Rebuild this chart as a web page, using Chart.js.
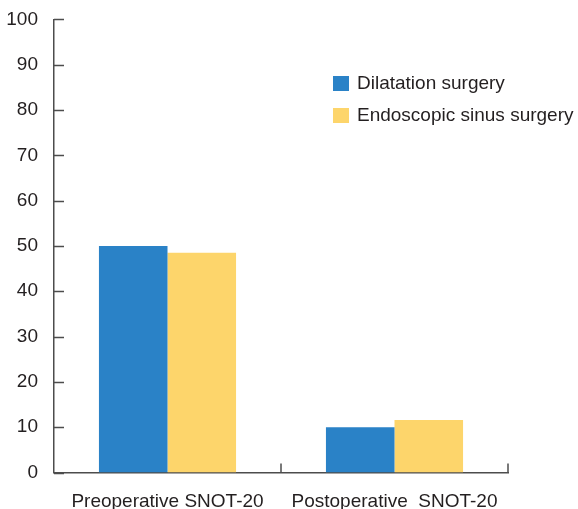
<!DOCTYPE html>
<html>
<head>
<meta charset="utf-8">
<script src="https://cdn.jsdelivr.net/npm/chart.js@4.4.1/dist/chart.umd.min.js"></script>
<style>
  html, body { margin: 0; padding: 0; background: #fff; }
  #wrap { position: relative; width: 578px; height: 509px; }
</style>
</head>
<body>
<div id="wrap"><canvas id="chart"></canvas></div>
<script>
// data
const categories = ['Preoperative SNOT-20', 'Postoperative  SNOT-20'];
const seriesNames = ['Dilatation surgery', 'Endoscopic sinus surgery'];
const dilatation = [50, 10];
const endoscopic = [48.5, 11.6];
const yTicks = [0, 10, 20, 30, 40, 50, 60, 70, 80, 90, 100];

const colors = ['#2A82C7', '#FDD56B'];
const axisColor = '#4d4d4d';
const textColor = '#231f20';
const font = { family: 'Liberation Sans, Arial, sans-serif', size: 19 };

// ticks point inward, so draw them by hand from the scales
const innerTicks = {
    id: 'innerTicks',
    afterDraw(chart) {
        const ctx = chart.ctx;
        const xs = chart.scales.x, ys = chart.scales.y;
        const area = chart.chartArea;
        ctx.save();
        ctx.strokeStyle = axisColor;
        ctx.lineWidth = 1.5;
        ctx.beginPath();
        ys.ticks.forEach(t => {
            const py = Math.round(ys.getPixelForValue(t.value)) + 0.5;
            ctx.moveTo(area.left, py);
            ctx.lineTo(area.left + 10, py);
        });
        const half = (xs.getPixelForValue(1) - xs.getPixelForValue(0)) / 2;
        for (let i = 0; i < categories.length; i++) {
            const px = Math.round(xs.getPixelForValue(i) + half);
            ctx.moveTo(px, area.bottom);
            ctx.lineTo(px, area.bottom - 9);
        }
        ctx.stroke();
        ctx.restore();
    }
};

// legend inside the plot, top right
const boxLegend = {
    id: 'boxLegend',
    afterDraw(chart) {
        const ctx = chart.ctx;
        ctx.save();
        ctx.font = font.size + 'px ' + font.family;
        ctx.textBaseline = 'middle';
        chart.data.datasets.forEach((ds, i) => {
            const y = 84 + i * 32;
            ctx.fillStyle = ds.backgroundColor;
            ctx.fillRect(333, y - 8, 16, 15);
            ctx.fillStyle = textColor;
            ctx.fillText(ds.label, 357, y);
        });
        ctx.restore();
    }
};

new Chart(document.getElementById('chart'), {
    type: 'bar',
    data: {
        labels: categories,
        datasets: [
            { label: seriesNames[0], data: dilatation, backgroundColor: colors[0], borderWidth: 0 },
            { label: seriesNames[1], data: endoscopic, backgroundColor: colors[1], borderWidth: 0 }
        ]
    },
    options: {
        responsive: true,
        maintainAspectRatio: false,
        animation: false,
        layout: { padding: { top: 13, right: 70, left: 0, bottom: 0 } },
        datasets: { bar: { categoryPercentage: 0.604, barPercentage: 1.0 } },
        plugins: { legend: { display: false }, tooltip: { enabled: false } },
        scales: {
            x: {
                grid: { display: false },
                border: { display: true, color: axisColor, width: 1.5 },
                ticks: { color: textColor, font: font, padding: 10, maxRotation: 0 },
                afterFit(s) { s.height = 36.5; }
            },
            y: {
                min: 0,
                max: 100,
                grid: { display: false },
                border: { display: true, color: axisColor, width: 1.5 },
                afterBuildTicks(s) { s.ticks = yTicks.map(v => ({ value: v })); },
                ticks: { color: textColor, font: font, padding: 8 },
                afterFit(s) { s.width = 54; }
            }
        }
    },
    plugins: [innerTicks, boxLegend]
});
</script>
</body>
</html>
